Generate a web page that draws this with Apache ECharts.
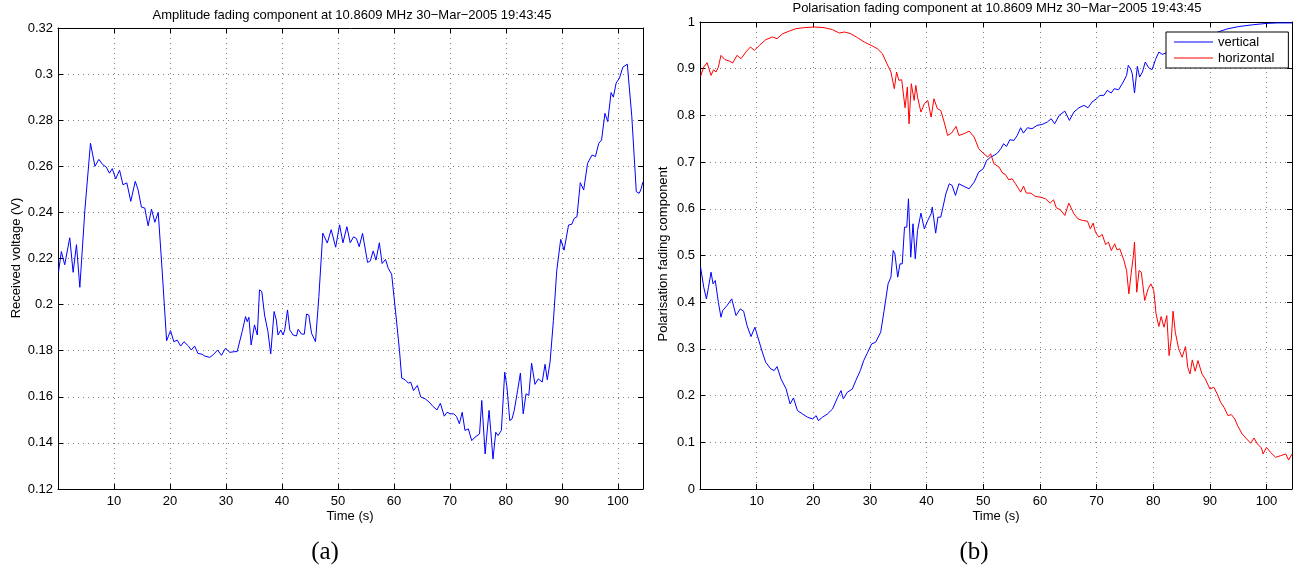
<!DOCTYPE html>
<html>
<head>
<meta charset="utf-8">
<script src="https://cdn.jsdelivr.net/npm/echarts@6.0.0/dist/echarts.min.js"></script>
<style>
  html, body { margin: 0; padding: 0; background: #fff; }
  #chart { width: 1297px; height: 572px; }
</style>
</head>
<body>
<div id="chart"></div>
<script>
// Panel (a): received amplitude, time in seconds and voltage in volts
const ampTime = [0.1,0.6,1.2,2.1,2.7,3.3,3.9,4.8,5.8,6.6,7.3,8.0,8.6,9.2,9.7,10.3,11.0,11.6,12.3,13.0,13.8,14.3,14.9,15.5,16.1,16.7,17.3,17.9,18.6,19.4,20.1,20.7,21.3,21.9,22.5,23.3,23.8,24.4,25.0,25.7,26.2,27.1,27.8,28.5,29.2,29.9,30.7,31.6,32.0,32.9,33.5,33.8,34.1,34.5,35.1,35.6,36.0,36.4,36.9,37.5,38.0,38.6,39.0,39.3,39.8,40.2,40.5,41.0,41.4,42.0,42.6,42.9,43.5,44.0,44.4,44.8,45.3,46.0,46.6,47.3,48.1,48.8,49.6,50.3,50.9,51.6,52.2,52.8,53.3,53.8,54.4,55.3,55.8,56.3,56.8,57.4,57.9,58.5,59.0,59.6,59.9,60.4,61.0,61.4,62.0,62.6,63.0,63.5,64.2,64.8,65.6,66.3,67.0,67.7,68.3,69.0,69.5,70.1,70.7,71.2,71.7,72.2,72.7,73.3,73.9,74.5,75.3,75.7,76.3,77.0,77.3,77.7,78.2,78.6,79.2,79.8,80.2,80.7,81.1,81.5,82.1,82.6,83.1,83.6,84.1,84.6,85.2,85.8,86.5,87.0,87.4,87.9,88.5,89.1,89.8,90.4,91.2,91.8,92.2,92.7,93.3,93.9,94.6,95.4,96.0,96.6,97.1,97.7,98.2,98.8,99.2,99.7,100.3,100.9,101.7,102.5,103.3,103.8,104.1,104.5];
const ampVolt = [0.2143,0.223,0.2173,0.229,0.214,0.226,0.2075,0.241,0.270,0.260,0.263,0.2607,0.2597,0.257,0.259,0.2545,0.2583,0.252,0.2528,0.2448,0.2535,0.2499,0.2423,0.2419,0.2342,0.2414,0.2357,0.240,0.215,0.1843,0.1887,0.1839,0.1846,0.182,0.1839,0.182,0.1803,0.182,0.1788,0.1785,0.1777,0.1771,0.1784,0.1803,0.178,0.181,0.1793,0.1796,0.1796,0.1883,0.1948,0.1926,0.1945,0.1825,0.1912,0.1868,0.2064,0.2057,0.1955,0.1883,0.1786,0.197,0.1933,0.1868,0.189,0.1868,0.189,0.1977,0.189,0.1868,0.1864,0.1893,0.1872,0.1872,0.1959,0.1955,0.1875,0.1839,0.2035,0.231,0.2267,0.2325,0.2249,0.2346,0.2268,0.2338,0.2268,0.2294,0.2287,0.2251,0.2309,0.2183,0.219,0.2233,0.2193,0.2268,0.2178,0.2196,0.2157,0.2132,0.2126,0.1946,0.1801,0.1681,0.1674,0.1659,0.1664,0.1627,0.1649,0.1599,0.1591,0.1577,0.1558,0.1543,0.1572,0.1516,0.1533,0.1526,0.1526,0.1514,0.1483,0.1533,0.1454,0.1461,0.141,0.1425,0.1439,0.1584,0.1352,0.1541,0.1454,0.133,0.1446,0.1432,0.1454,0.1707,0.1642,0.1497,0.1504,0.1541,0.1627,0.1703,0.1526,0.1613,0.1606,0.1746,0.1654,0.1678,0.1664,0.1741,0.1674,0.1751,0.1932,0.2149,0.2283,0.2236,0.2345,0.2349,0.2374,0.2381,0.2529,0.2497,0.2613,0.2649,0.2642,0.270,0.2714,0.283,0.2794,0.292,0.290,0.2961,0.2983,0.303,0.3043,0.2816,0.249,0.2483,0.2497,0.2533];

// Panel (b): polarisation fading components
const vertTime = [0.1,0.66,1.13,1.5,1.95,2.3,2.7,3.24,3.7,4.0,4.77,5.6,6.36,7.1,7.7,8.3,9.0,9.7,10.3,11.1,11.6,12.5,13.1,13.6,14.3,15.2,15.9,16.5,17.2,18.1,19.0,19.9,20.5,20.9,21.6,22.5,23.4,24.3,24.9,25.3,26.0,26.9,27.5,28.3,28.9,29.6,30.3,31.0,31.9,32.5,33.2,33.7,34.1,34.4,34.9,35.3,35.7,36.1,36.5,36.8,37.2,37.6,38.0,38.4,39.0,39.6,40.2,40.8,41.0,41.6,42.0,42.5,43.4,44.0,44.5,45.1,45.7,46.6,47.5,48.4,49.2,50.0,50.6,51.3,51.9,52.5,53.1,53.6,54.1,54.7,55.4,56.0,56.6,57.1,57.8,58.6,59.5,60.4,61.3,62.0,62.6,63.4,64.4,65.2,66.0,66.9,67.8,68.5,69.2,70.0,70.6,71.3,71.9,72.6,73.1,73.9,74.7,75.3,75.6,76.0,76.3,76.7,77.2,77.6,78.1,78.6,79.2,79.8,80.4,81.0,81.6,82.5,84.0,86.0,88.0,90.0,91.3,93.0,95.0,97.5,100.0,102.0,104.5];
const vertical = [0.475,0.4321,0.4071,0.4321,0.4643,0.4393,0.4464,0.40,0.3679,0.3821,0.3929,0.4071,0.3714,0.3857,0.3807,0.35,0.3264,0.3464,0.3214,0.2893,0.2714,0.2571,0.2536,0.2621,0.2357,0.2143,0.1821,0.195,0.1679,0.1607,0.1536,0.15,0.1571,0.1464,0.1536,0.1607,0.1714,0.1964,0.2107,0.1929,0.2071,0.2143,0.2321,0.2536,0.275,0.2929,0.3107,0.3143,0.3357,0.3821,0.4393,0.4536,0.5107,0.5036,0.4536,0.4821,0.4821,0.5607,0.5607,0.6214,0.4964,0.5679,0.4929,0.5536,0.5907,0.5571,0.575,0.5893,0.6036,0.5479,0.5821,0.5821,0.6321,0.6536,0.65,0.6286,0.6536,0.6479,0.6429,0.6571,0.6786,0.6857,0.7036,0.7107,0.7143,0.7193,0.7286,0.7393,0.7336,0.7479,0.7464,0.7571,0.7736,0.7621,0.7736,0.7714,0.7786,0.7807,0.7857,0.7929,0.7821,0.80,0.8093,0.7893,0.8071,0.8164,0.8214,0.8164,0.8286,0.8357,0.8429,0.8429,0.8536,0.8479,0.8571,0.855,0.8714,0.8857,0.9071,0.90,0.8893,0.8479,0.905,0.8821,0.8929,0.9143,0.9021,0.8979,0.9193,0.9357,0.9307,0.935,0.945,0.955,0.962,0.97,0.978,0.985,0.99,0.994,0.997,0.998,0.998];

const horizTime = [0.1,0.66,1.25,1.95,2.4,2.83,3.24,3.7,4.4,5.2,5.77,6.53,7.24,8.1,8.9,9.6,10.5,11.6,12.8,13.6,14.6,15.8,16.9,18.4,20.2,21.9,23.4,24.6,25.5,26.6,27.8,29.0,30.2,31.3,32.2,33.0,33.7,34.3,34.7,35.1,35.6,36.2,36.6,36.9,37.3,37.8,38.1,38.4,39.0,39.6,40.2,40.8,41.3,41.9,42.5,43.1,43.7,44.4,45.2,45.7,46.6,47.5,48.4,49.2,50.1,50.8,51.3,51.9,52.8,53.4,53.9,54.5,55.1,55.7,56.6,57.1,57.6,58.4,59.2,60.1,61.0,61.8,62.4,62.9,63.6,64.4,65.1,66.0,66.7,67.5,68.4,68.9,69.4,69.8,70.4,71.0,71.6,72.1,72.6,73.2,73.6,74.1,74.8,75.3,75.7,76.1,76.5,76.7,77.1,77.5,77.9,78.5,79.1,79.6,80.1,80.5,81.0,81.4,81.9,82.4,82.8,83.2,83.5,83.9,84.5,85.1,85.7,86.1,86.5,86.9,87.4,87.9,88.6,89.2,90.0,90.7,91.3,91.9,92.5,93.2,93.8,94.4,94.9,95.7,96.5,97.2,97.8,98.4,99.1,99.4,100.0,100.7,101.6,102.5,103.4,103.9,104.5];
const horizontal = [0.8836,0.9036,0.9129,0.8857,0.8979,0.8929,0.9036,0.9286,0.9193,0.9164,0.9121,0.9286,0.9214,0.9357,0.9464,0.9393,0.95,0.9621,0.9679,0.9643,0.975,0.9807,0.9857,0.9879,0.9893,0.9879,0.9836,0.9764,0.9786,0.975,0.9664,0.9571,0.95,0.9429,0.9321,0.9107,0.8929,0.8571,0.8929,0.875,0.8764,0.8164,0.8607,0.7821,0.8679,0.8321,0.8643,0.8393,0.8071,0.825,0.8321,0.7964,0.8357,0.8143,0.8107,0.7857,0.7571,0.7621,0.7764,0.7571,0.7607,0.7664,0.7536,0.7286,0.7179,0.7107,0.7179,0.6964,0.6893,0.6764,0.6736,0.6621,0.6643,0.6536,0.6357,0.6486,0.6336,0.6336,0.6264,0.625,0.6214,0.6121,0.6193,0.6021,0.5979,0.5857,0.6121,0.5893,0.5786,0.575,0.5736,0.5571,0.5693,0.55,0.5393,0.545,0.5236,0.5286,0.5107,0.525,0.5121,0.5143,0.4907,0.4679,0.4179,0.4607,0.50,0.5286,0.4214,0.4679,0.4643,0.4036,0.4286,0.4393,0.425,0.375,0.3479,0.3693,0.3464,0.3714,0.2857,0.3214,0.3807,0.3357,0.30,0.2821,0.305,0.2607,0.2464,0.2764,0.2521,0.275,0.2464,0.2357,0.2143,0.2179,0.2036,0.1857,0.175,0.1571,0.1593,0.15,0.1357,0.1179,0.1071,0.0979,0.1093,0.0964,0.0879,0.075,0.0893,0.0786,0.0679,0.0714,0.075,0.0621,0.075];

const FONT = '"Liberation Sans", Arial, Helvetica, sans-serif';
const pairs = (xs, ys) => xs.map((x, i) => [x, ys[i]]);
const trimNum = v => String(parseFloat(v.toFixed(2)));

function timeAxes(gridIndex) {
  const base = {
    type: 'value', gridIndex, min: 0, max: 104.5, interval: 10,
    axisLine: { onZero: false, lineStyle: { color: '#000', width: 1 } },
    axisTick: { inside: true, length: 5, lineStyle: { color: '#000', width: 1 } }
  };
  return [
    Object.assign({}, base, {
      position: 'bottom',
      axisLabel: {
        color: '#000', fontFamily: FONT, fontSize: 13, margin: 6,
        formatter: v => (v > 0 && v % 10 === 0) ? String(v) : ''
      },
      splitLine: { show: true, lineStyle: { color: '#808080', width: 1, type: [1, 4] } }
    }),
    Object.assign({}, base, {
      position: 'top', axisLabel: { show: false }, splitLine: { show: false }
    })
  ];
}

function valueAxes(gridIndex, min, max, interval) {
  const base = {
    type: 'value', gridIndex, min, max, interval,
    axisLine: { onZero: false, lineStyle: { color: '#000', width: 1 } },
    axisTick: { inside: true, length: 5, lineStyle: { color: '#000', width: 1 } }
  };
  return [
    Object.assign({}, base, {
      position: 'left',
      axisLabel: { color: '#000', fontFamily: FONT, fontSize: 13, margin: 5, formatter: trimNum },
      splitLine: { show: true, lineStyle: { color: '#808080', width: 1, type: [1, 4] } }
    }),
    Object.assign({}, base, {
      position: 'right', axisLabel: { show: false }, splitLine: { show: false }
    })
  ];
}

const chart = echarts.init(document.getElementById('chart'), null, { renderer: 'canvas' });

chart.setOption({
  backgroundColor: '#fff',
  animation: false,
  textStyle: { fontFamily: FONT },
  title: [
    {
      text: 'Amplitude fading component at 10.8609 MHz 30\u2212Mar\u22122005 19:43:45',
      left: 352, top: 9, textAlign: 'center', padding: 0,
      textStyle: { fontFamily: FONT, fontSize: 13, fontWeight: 'normal', color: '#000' }
    },
    {
      text: 'Polarisation fading component at 10.8609 MHz 30\u2212Mar\u22122005 19:43:45',
      left: 997, top: 2, textAlign: 'center', padding: 0,
      textStyle: { fontFamily: FONT, fontSize: 13, fontWeight: 'normal', color: '#000' }
    }
  ],
  grid: [
    { left: 58, top: 28, right: 654, bottom: 83 },
    { left: 700, top: 22, right: 5, bottom: 83 }
  ],
  xAxis: [...timeAxes(0), ...timeAxes(1)],
  yAxis: [...valueAxes(0, 0.12, 0.32, 0.02), ...valueAxes(1, 0, 1, 0.1)],
  legend: {
    data: ['vertical', 'horizontal'],
    orient: 'vertical',
    left: 1166, top: 32,
    icon: 'rect',
    itemWidth: 39, itemHeight: 1, itemGap: 0,
    padding: [2, 14, 2, 8],
    backgroundColor: '#fff',
    borderColor: '#000', borderWidth: 1, borderRadius: 0,
    textStyle: { fontFamily: FONT, fontSize: 13, color: '#000', lineHeight: 16 }
  },
  series: [
    {
      name: 'amplitude', type: 'line', xAxisIndex: 0, yAxisIndex: 0,
      data: pairs(ampTime, ampVolt), symbol: 'none',
      lineStyle: { color: '#0000ff', width: 1 }, itemStyle: { color: '#0000ff' }
    },
    {
      name: 'vertical', type: 'line', xAxisIndex: 2, yAxisIndex: 2,
      data: pairs(vertTime, vertical), symbol: 'none',
      lineStyle: { color: '#0000ff', width: 1 }, itemStyle: { color: '#0000ff' }
    },
    {
      name: 'horizontal', type: 'line', xAxisIndex: 2, yAxisIndex: 2,
      data: pairs(horizTime, horizontal), symbol: 'none',
      lineStyle: { color: '#ff0000', width: 1 }, itemStyle: { color: '#ff0000' }
    }
  ],
  graphic: [
    {
      type: 'text', x: 16, y: 258, rotation: Math.PI / 2,
      style: { text: 'Received voltage (V)', font: '13px ' + FONT, fill: '#000', textAlign: 'center', textVerticalAlign: 'middle' }
    },
    {
      type: 'text', x: 663, y: 254, rotation: Math.PI / 2,
      style: { text: 'Polarisation fading component', font: '13px ' + FONT, fill: '#000', textAlign: 'center', textVerticalAlign: 'middle' }
    },
    {
      type: 'text', x: 350, y: 516,
      style: { text: 'Time (s)', font: '13px ' + FONT, fill: '#000', textAlign: 'center', textVerticalAlign: 'middle' }
    },
    {
      type: 'text', x: 996, y: 516,
      style: { text: 'Time (s)', font: '13px ' + FONT, fill: '#000', textAlign: 'center', textVerticalAlign: 'middle' }
    },
    {
      type: 'text', x: 325, y: 552,
      style: { text: '(a)', font: '25px "Liberation Serif", "DejaVu Serif", serif', fill: '#000', textAlign: 'center', textVerticalAlign: 'middle' }
    },
    {
      type: 'text', x: 974, y: 552,
      style: { text: '(b)', font: '25px "Liberation Serif", "DejaVu Serif", serif', fill: '#000', textAlign: 'center', textVerticalAlign: 'middle' }
    }
  ]
});
</script>
</body>
</html>
